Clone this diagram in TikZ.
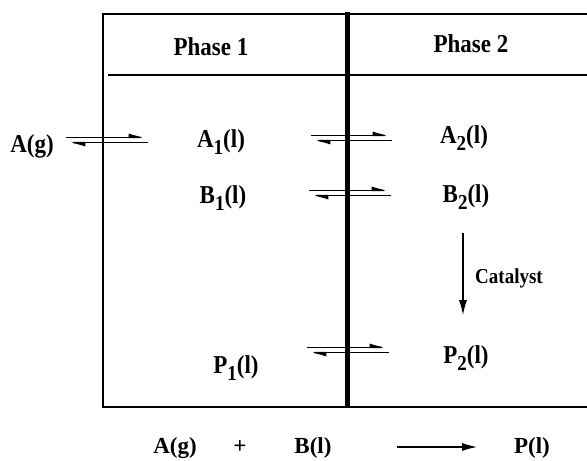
\documentclass[tikz,border=0pt]{standalone}
\usepackage{fontspec}
\setmainfont{Liberation Serif}
\usetikzlibrary{arrows.meta}
\newcommand\subx[1]{\raisebox{-0.3em}{\fontsize{19}{19}\selectfont #1}}
\newcommand\tallx[1]{\scalebox{1}[1.12]{#1}}
\begin{document}
\begin{tikzpicture}[x=1pt,y=-1pt,
  lbl/.style={anchor=base,inner sep=0pt,font=\fontsize{23}{23}\selectfont\bfseries},
  small/.style={anchor=base,inner sep=0pt,font=\fontsize{19}{19}\selectfont\bfseries},
  frame/.style={line width=1.4pt},
  wall/.style={line width=5pt},
  harp/.style={line width=1.1pt,-{Latex[left,length=16pt,width=8pt]}},
  onearrow/.style={line width=1.1pt,-{Latex[length=15pt,width=8pt]}}]
\useasboundingbox (0,0) rectangle (587,461);
% frame
\coordinate (tl) at (103,14);
\coordinate (tr) at (587,14);
\coordinate (bl) at (103,407);
\coordinate (br) at (587,407);
\draw[frame] (tr) -- (tl) -- (bl) -- (br);
\coordinate (hl) at (108,75);
\coordinate (hr) at (587,75);
\draw[frame] (hl) -- (hr);
\coordinate (wt) at (347,12);
\coordinate (wb) at (347,407);
\draw[wall] (wt) -- (wb);
% headers
\node[lbl] (ph1) at (211,55) {\tallx{Phase 1}};
\node[lbl] (ph2) at (471,52) {\tallx{Phase 2}};
% species
\node[lbl] (Ag) at (32,152) {\tallx{A(g)}};
\node[lbl] (A1) at (221,147) {\tallx{A\subx{1}(l)}};
\node[lbl] (A2) at (464,143) {\tallx{A\subx{2}(l)}};
\node[lbl] (B1) at (223,203) {\tallx{B\subx{1}(l)}};
\node[lbl] (B2) at (466,202) {\tallx{B\subx{2}(l)}};
\node[lbl] (P1) at (236,373) {\tallx{P\subx{1}(l)}};
\node[lbl] (P2) at (466,363) {\tallx{P\subx{2}(l)}};
% equilibrium arrows
\coordinate (e1l) at (66,137.5); \coordinate (e1r) at (148,137.5);
\coordinate (e1L) at (66,142.5); \coordinate (e1R) at (148,142.5);
\draw[harp] (e1l) -- (e1r);
\draw[harp] (e1R) -- (e1L);
\coordinate (e2l) at (311,135.5); \coordinate (e2r) at (392,135.5);
\coordinate (e2L) at (311,140.5); \coordinate (e2R) at (392,140.5);
\draw[harp] (e2l) -- (e2r);
\draw[harp] (e2R) -- (e2L);
\coordinate (e3l) at (309,190.5); \coordinate (e3r) at (391,190.5);
\coordinate (e3L) at (309,195.5); \coordinate (e3R) at (391,195.5);
\draw[harp] (e3l) -- (e3r);
\draw[harp] (e3R) -- (e3L);
\coordinate (e4l) at (307,347.5); \coordinate (e4r) at (389,347.5);
\coordinate (e4L) at (307,352.5); \coordinate (e4R) at (389,352.5);
\draw[harp] (e4l) -- (e4r);
\draw[harp] (e4R) -- (e4L);
% catalyst
\coordinate (ct) at (463,233);
\coordinate (cb) at (463,315);
\draw[onearrow] (ct) -- (cb);
\node[small] (cat) at (509,283) {\tallx{Catalyst}};
% overall reaction
\node[lbl] (Ao) at (175,453) {A(g)};
\node[lbl] (plus) at (240,453) {+};
\node[lbl] (Bo) at (313,453) {B(l)};
\node[lbl] (Po) at (532,453) {P(l)};
\coordinate (rs) at (397,447);
\coordinate (re) at (477,447);
\draw[onearrow] (rs) -- (re);
\end{tikzpicture}
\end{document}
